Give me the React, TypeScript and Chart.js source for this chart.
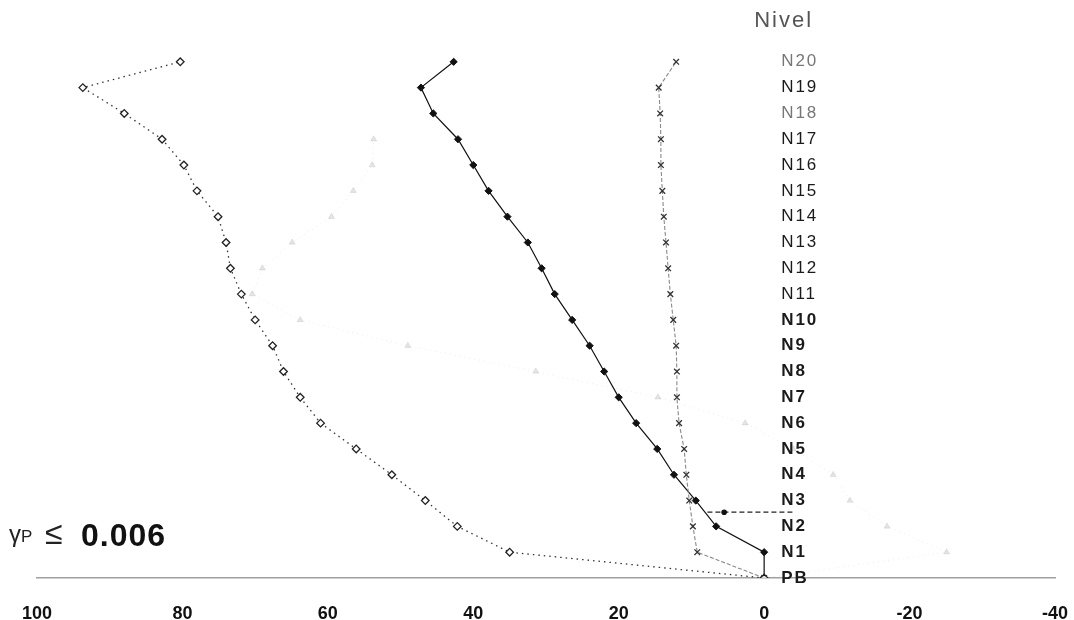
import React, { useEffect, useRef } from 'react';
import { Chart, registerables } from 'chart.js';

Chart.register(...registerables);

// ---- data ----
const levels = ['PB', 'N1', 'N2', 'N3', 'N4', 'N5', 'N6', 'N7', 'N8', 'N9', 'N10',
  'N11', 'N12', 'N13', 'N14', 'N15', 'N16', 'N17', 'N18', 'N19', 'N20'];
const levelTitle = 'Nivel';

const seriesOpen = [0, 35.0, 42.2, 46.6, 51.2, 56.1, 61.0, 63.8, 66.1, 67.6, 70.0,
  71.9, 73.4, 74.0, 75.1, 78.0, 79.8, 82.8, 88.0, 93.7, 80.3];
const seriesFilled = [0, 0, 6.6, 9.4, 12.4, 14.7, 17.6, 20.0, 22.0, 24.0, 26.4,
  28.8, 30.6, 32.5, 35.3, 37.9, 40.0, 42.1, 45.5, 47.2, 42.7];
const seriesCross = [0, 9.2, 9.8, 10.3, 10.7, 11.0, 11.7, 12.0, 12.0, 12.1, 12.5,
  12.9, 13.2, 13.5, 13.8, 14.0, 14.2, 14.2, 14.3, 14.5, 12.1];
const seriesFaint: (number | null)[] = [0, -25.1, -16.9, -11.8, -9.5, -4.0, 2.6, 14.6, 31.4, 49.0, 63.8,
  70.4, 69.0, 64.9, 59.5, 56.5, 53.9, 53.7, null, null, null];

const arrowX = [7.8, 5.5, -4.2];
const arrowLevel = 2.55;

const xMin = -40;
const xMax = 100;
const xStep = 20;

const gammaSymbol = 'γ';
const gammaSub = 'P';
const gammaRel = '≤';
const gammaValue = '0.006';

const FONT = '"Liberation Sans", Arial, sans-serif';

const toPoints = (vals: (number | null)[]) =>
  vals.map((v, i) => ({ x: v, y: i })).filter((p) => p.x !== null);

const overlay = {
  id: 'overlay',
  afterDatasetsDraw(chart: any) {
    const { ctx, scales } = chart;
    const xs = scales.x;
    const ys = scales.y;
    const x0 = xs.getPixelForValue(0);
    ctx.save();
    ctx.textBaseline = 'middle';
    ctx.textAlign = 'left';
    levels.forEach((lab, i) => {
      const bold = i <= 10;
      ctx.font = `${bold ? 'bold ' : ''}17px ${FONT}`;
      ctx.fillStyle = i === 20 || i === 18 ? '#777' : '#1a1a1a';
      (ctx as any).letterSpacing = '2px';
      ctx.fillText(lab, x0 + 17, ys.getPixelForValue(i));
    });
    ctx.font = `22px ${FONT}`;
    ctx.fillStyle = '#555';
    (ctx as any).letterSpacing = '2px';
    ctx.fillText(levelTitle, x0 - 10, 21);

    (ctx as any).letterSpacing = '0px';
    ctx.textBaseline = 'alphabetic';
    ctx.fillStyle = '#222';
    ctx.font = `24px ${FONT}`;
    ctx.fillText(gammaSymbol, 9, 542);
    ctx.font = `17px ${FONT}`;
    ctx.fillText(gammaSub, 21, 542);
    ctx.font = `32px ${FONT}`;
    ctx.fillText(gammaRel, 45, 544);
    ctx.font = `bold 32px ${FONT}`;
    ctx.fillStyle = '#111';
    (ctx as any).letterSpacing = '1px';
    ctx.fillText(gammaValue, 81, 546);
    ctx.restore();
  },
};

export default function App() {
  const ref = useRef<HTMLCanvasElement | null>(null);

  useEffect(() => {
    if (!ref.current) return;
    const chart = new Chart(ref.current, {
      type: 'scatter',
      data: {
        datasets: [
          {
            label: 'faint',
            data: toPoints(seriesFaint) as any,
            showLine: true,
            borderColor: 'rgba(0,0,0,0.08)',
            borderWidth: 1,
            borderDash: [1, 4],
            pointStyle: 'triangle',
            pointRadius: 3.5,
            pointBackgroundColor: 'rgba(0,0,0,0.1)',
            pointBorderColor: 'rgba(0,0,0,0.08)',
            pointBorderWidth: 1,
          },
          {
            label: 'open',
            data: toPoints(seriesOpen) as any,
            showLine: true,
            borderColor: '#333',
            borderWidth: 1.3,
            borderDash: [1.5, 4],
            pointStyle: 'rectRot',
            pointRadius: 3.8,
            pointBackgroundColor: '#fff',
            pointBorderColor: '#222',
            pointBorderWidth: 1.3,
          },
          {
            label: 'cross',
            data: toPoints(seriesCross) as any,
            showLine: true,
            borderColor: '#8a8a8a',
            borderWidth: 1.1,
            borderDash: [4, 2],
            pointStyle: 'crossRot',
            pointRadius: 4,
            pointBorderColor: '#333',
            pointBorderWidth: 1.3,
          },
          {
            label: 'filled',
            data: toPoints(seriesFilled) as any,
            showLine: true,
            borderColor: '#111',
            borderWidth: 1.2,
            pointStyle: 'rectRot',
            pointRadius: 3.6,
            pointBackgroundColor: '#111',
            pointBorderColor: '#111',
            pointBorderWidth: 1,
          },
          {
            label: 'arrow',
            data: arrowX.map((v) => ({ x: v, y: arrowLevel })) as any,
            showLine: true,
            borderColor: '#222',
            borderWidth: 1.2,
            borderDash: [5, 3],
            pointRadius: [0, 2.2, 0],
            pointBackgroundColor: '#111',
            pointBorderColor: '#111',
          },
        ],
      },
      options: {
        animation: false,
        responsive: false,
        layout: { padding: { left: 37, right: 19, top: 36, bottom: 0 } },
        plugins: {
          legend: { display: false },
          tooltip: { enabled: false },
        },
        scales: {
          x: {
            type: 'linear',
            min: xMin,
            max: xMax,
            reverse: true,
            grid: { display: false },
            border: { display: true, color: '#a0a0a0', width: 1.5 },
            ticks: {
              stepSize: xStep,
              padding: 17,
              color: '#111',
              font: { family: FONT, size: 18, weight: 'bold' },
            },
            afterFit: (scale: any) => {
              scale.height = 42;
              scale.paddingLeft = 0;
              scale.paddingRight = 0;
            },
          },
          y: {
            type: 'linear',
            min: 0,
            max: 21,
            display: false,
          },
        },
      },
      plugins: [overlay],
    });
    return () => chart.destroy();
  }, []);

  return (
    <div style={{ position: 'fixed', left: 0, top: 0, width: 1074, height: 620, background: '#fff' }}>
      <canvas ref={ref} width={1074} height={620} style={{ width: 1074, height: 620, display: 'block' }} />
    </div>
  );
}
